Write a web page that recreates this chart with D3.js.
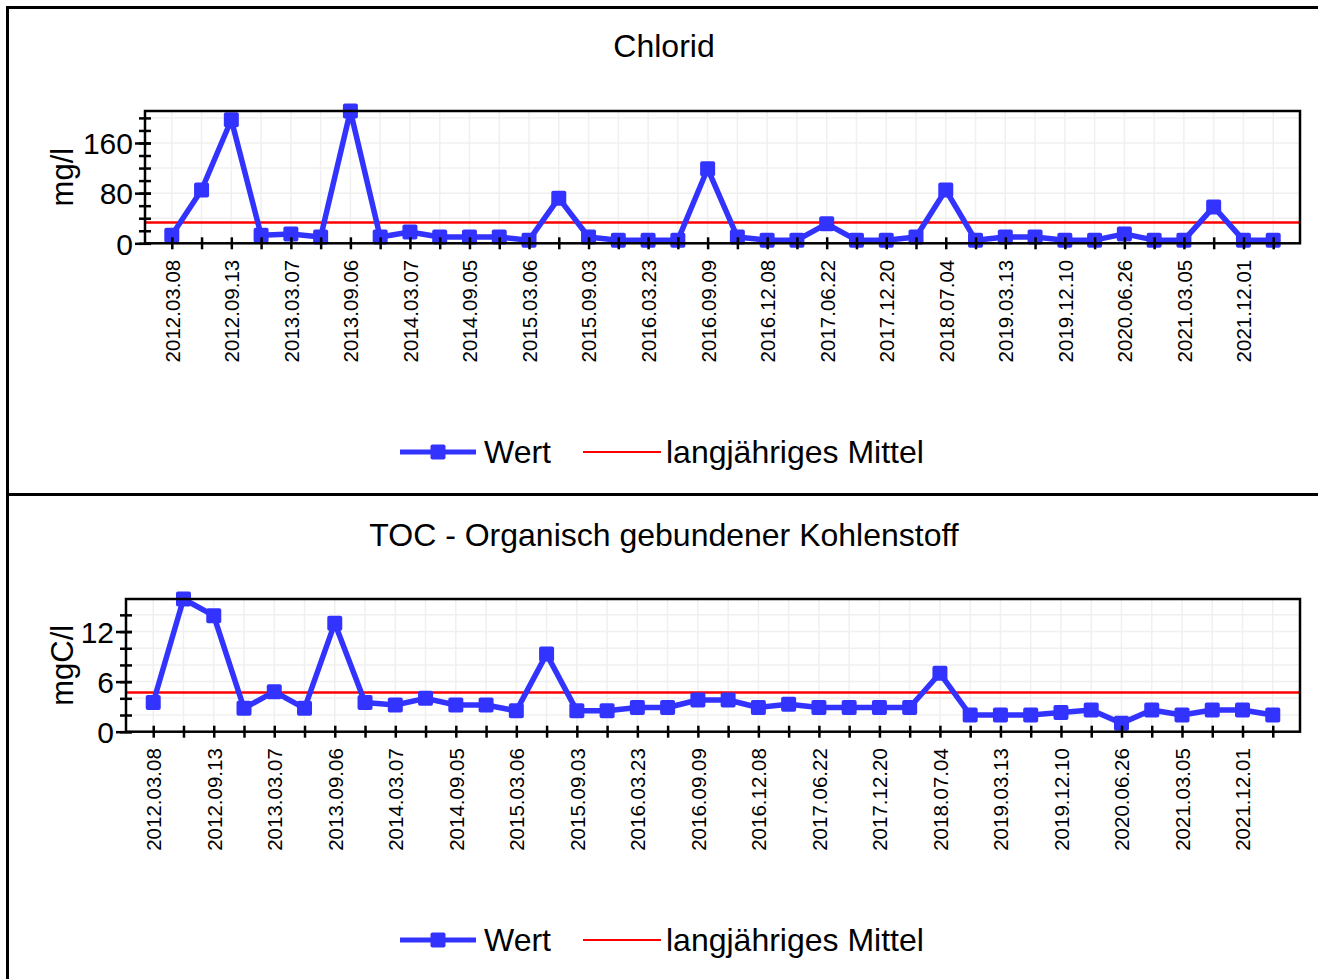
<!DOCTYPE html>
<html>
<head>
<meta charset="utf-8">
<script src="https://cdn.jsdelivr.net/npm/d3@7"></script>
<style>
  html, body { margin: 0; padding: 0; background: #fff; }
  svg { display: block; font-family: "Liberation Sans", Arial, sans-serif; }
</style>
</head>
<body>
<svg id="chart" width="1318" height="979"></svg>
<script>
// Sample dates shown on the x axis (every second sample is labelled)
const tickLabels = [
  "2012.03.08", "2012.09.13", "2013.03.07", "2013.09.06", "2014.03.07",
  "2014.09.05", "2015.03.06", "2015.09.03", "2016.03.23", "2016.09.09",
  "2016.12.08", "2017.06.22", "2017.12.20", "2018.07.04", "2019.03.13",
  "2019.12.10", "2020.06.26", "2021.03.05", "2021.12.01"
];

// Chlorid, mg/l, one value per sample
const chloridValues = [
  13, 85, 197, 13, 15, 10, 211, 10, 18, 10,
  10, 10, 5, 72, 10, 5, 5, 5, 119, 10,
  5, 5, 31, 5, 5, 10, 85, 5, 10, 10,
  5, 5, 15, 5, 5, 58, 5, 5
];
const chloridMean = 33;
const chloridMajorTicks = [0, 80, 160];

// TOC, mgC/l, one value per sample
const tocValues = [
  3.5, 15.9, 13.9, 2.8, 4.8, 2.8, 13.0, 3.5, 3.2, 4.0,
  3.2, 3.2, 2.5, 9.3, 2.5, 2.5, 2.9, 2.9, 3.8, 3.8,
  2.9, 3.3, 2.9, 2.9, 2.9, 2.9, 7.0, 2.0, 2.0, 2.0,
  2.3, 2.6, 1.0, 2.6, 2.0, 2.6, 2.6, 2.0
];
const tocMean = 4.7;
const tocMajorTicks = [0, 6, 12];

const legendLabels = ["Wert", "langjähriges Mittel"];

const BLUE = "#3333ff";
const RED = "#ff0000";
const svg = d3.select("#chart");

function drawPanel(opt) {
  const g = svg.append("g");
  const n = opt.values.length;
  const idx = d3.range(n);

  // outer frame of the panel
  g.append("rect")
    .attr("x", 7.5).attr("y", opt.frameTop)
    .attr("width", 1340).attr("height", opt.frameHeight)
    .attr("fill", "none").attr("stroke", "#000").attr("stroke-width", 3);

  // title
  g.append("text")
    .attr("x", 664).attr("y", opt.titleY)
    .attr("text-anchor", "middle")
    .attr("font-size", 32)
    .attr("fill", "#000")
    .text(opt.title);

  const x = d3.scalePoint().domain(idx).range([opt.left, opt.right]).padding(0.9);
  const y = d3.scaleLinear().domain([0, d3.max(opt.values)]).range([opt.bottom, opt.top]);

  // grid
  const grid = g.append("g").attr("stroke", "#f0f0f0").attr("stroke-width", 1.5);
  grid.selectAll("line.v").data(idx).join("line")
    .attr("x1", d => x(d)).attr("x2", d => x(d))
    .attr("y1", opt.top).attr("y2", opt.bottom);
  grid.selectAll("line.h").data(d3.range(opt.gridStep, y.domain()[1], opt.gridStep)).join("line")
    .attr("x1", opt.left).attr("x2", opt.right)
    .attr("y1", d => y(d)).attr("y2", d => y(d));

  // mean line
  g.append("line")
    .attr("x1", opt.left).attr("x2", opt.right)
    .attr("y1", y(opt.mean)).attr("y2", y(opt.mean))
    .attr("stroke", RED).attr("stroke-width", 2.5);

  // series line and markers
  const line = d3.line().x((d, i) => x(i)).y(d => y(d));
  g.append("path")
    .datum(opt.values)
    .attr("d", line)
    .attr("fill", "none").attr("stroke", BLUE)
    .attr("stroke-width", 5.5).attr("stroke-linejoin", "round");
  g.selectAll("rect.m").data(opt.values).join("rect")
    .attr("x", (d, i) => x(i) - 7.5).attr("y", d => y(d) - 7.5)
    .attr("width", 15).attr("height", 15)
    .attr("rx", 2)
    .attr("fill", BLUE);

  // plot box
  g.append("rect")
    .attr("x", opt.left).attr("y", opt.top)
    .attr("width", opt.right - opt.left).attr("height", opt.bottom - opt.top)
    .attr("fill", "none").attr("stroke", "#000").attr("stroke-width", 2.5);

  // y axis: minor ticks, major ticks and labels
  const yMinor = d3.range(0, y.domain()[1], opt.minorStep);
  const yAxisMinor = d3.axisLeft(y).tickValues(yMinor).tickSize(6).tickFormat("");
  const ya = g.append("g").attr("transform", `translate(${opt.left},0)`).call(yAxisMinor);
  ya.select(".domain").remove();
  ya.selectAll(".tick line").attr("x2", -6).attr("x1", 6).attr("stroke-width", 2.5);

  const yAxisMajor = d3.axisLeft(y).tickValues(opt.majorTicks).tickSize(10).tickPadding(4);
  const yb = g.append("g").attr("transform", `translate(${opt.left},0)`).call(yAxisMajor);
  yb.select(".domain").remove();
  yb.selectAll(".tick line").attr("x1", 6).attr("x2", -10).attr("stroke-width", 2.5);
  yb.selectAll(".tick text")
    .attr("font-size", 30).attr("font-family", "Liberation Sans, Arial, sans-serif")
    .attr("fill", "#000").attr("x", -12).attr("dy", "0.36em");

  // y axis title
  g.append("text")
    .attr("transform", `translate(${opt.yTitleX},${(opt.top + opt.bottom) / 2}) rotate(-90)`)
    .attr("text-anchor", "middle")
    .attr("font-size", 31)
    .text(opt.unit);

  // x axis: tick at every sample, label at every second one
  const xAxis = d3.axisBottom(x).tickSize(6)
    .tickFormat(i => (i % 2 === 0 ? tickLabels[i / 2] : ""));
  const xa = g.append("g").attr("transform", `translate(0,${opt.bottom})`).call(xAxis);
  xa.select(".domain").remove();
  xa.selectAll(".tick line").attr("y1", -6).attr("y2", 6).attr("stroke-width", 2.5);
  xa.selectAll(".tick text")
    .attr("font-size", 20.5).attr("font-family", "Liberation Sans, Arial, sans-serif")
    .attr("fill", "#000")
    .attr("text-anchor", "end")
    .attr("transform", "rotate(-90)")
    .attr("x", -16.5).attr("y", 0).attr("dy", "0.36em");

  // legend
  const lg = g.append("g").attr("transform", `translate(0,${opt.legendY})`);
  lg.append("line").attr("x1", 400).attr("x2", 476).attr("y1", 0).attr("y2", 0)
    .attr("stroke", BLUE).attr("stroke-width", 5);
  lg.append("rect").attr("x", 430.5).attr("y", -7.5).attr("width", 15).attr("height", 15)
    .attr("rx", 2).attr("fill", BLUE);
  lg.append("text").attr("x", 484).attr("y", 11).attr("font-size", 32).text(legendLabels[0]);
  lg.append("line").attr("x1", 583).attr("x2", 661).attr("y1", 0).attr("y2", 0)
    .attr("stroke", RED).attr("stroke-width", 2);
  lg.append("text").attr("x", 666).attr("y", 11).attr("font-size", 32).text(legendLabels[1]);
}

drawPanel({
  title: "Chlorid", unit: "mg/l",
  values: chloridValues, mean: chloridMean, majorTicks: chloridMajorTicks,
  minorStep: 20, gridStep: 40,
  frameTop: 7.5, frameHeight: 487,
  titleY: 57, left: 145, right: 1300, top: 111, bottom: 243.3,
  yTitleX: 73, legendY: 452
});

drawPanel({
  title: "TOC - Organisch gebundener Kohlenstoff", unit: "mgC/l",
  values: tocValues, mean: tocMean, majorTicks: tocMajorTicks,
  minorStep: 2, gridStep: 2,
  frameTop: 494.5, frameHeight: 600,
  titleY: 546, left: 126, right: 1300, top: 599, bottom: 731.7,
  yTitleX: 73, legendY: 940
});
</script>
</body>
</html>
